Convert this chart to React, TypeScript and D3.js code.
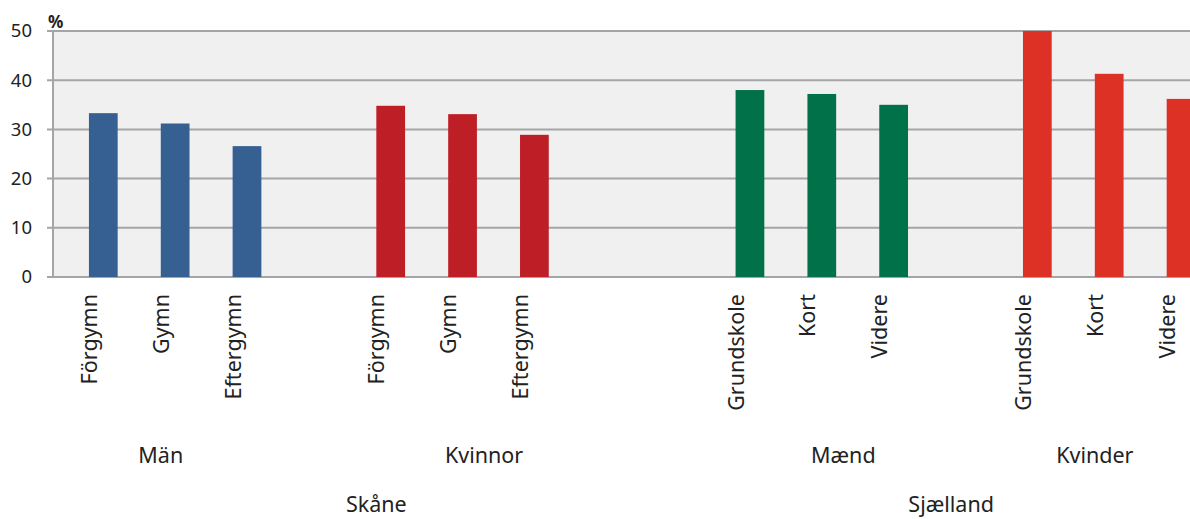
import React, { useEffect } from "react";
import * as d3 from "d3";

// 16 category slots (blank slots separate the groups)
const categories = ["Förgymn", "Gymn", "Eftergymn", "", "Förgymn", "Gymn", "Eftergymn", "", "", "Grundskole", "Kort", "Videre", "", "Grundskole", "Kort", "Videre"];
const values: (number | null)[] = [33.3, 31.2, 26.6, null, 34.8, 33.1, 28.9, null, null, 38.0, 37.2, 35.0, null, 50.0, 41.3, 36.2];
const groups = [
  { label: "Män", first: 0, last: 2, color: "#365f92" },
  { label: "Kvinnor", first: 3, last: 8, color: "#be1f26" },
  { label: "Mænd", first: 9, last: 12, color: "#007148" },
  { label: "Kvinder", first: 13, last: 15, color: "#de3126" },
];
const regions = [
  { label: "Skåne", first: 0, last: 8 },
  { label: "Sjælland", first: 9, last: 15 },
];
const yTicks = [0, 10, 20, 30, 40, 50];

const W = 1190;
const H = 519;
const left = 53;
const right = 1202.6;
const top = 31;
const bottom = 277;
const font = "'Noto Sans', 'Open Sans', sans-serif";

export default function App() {
  useEffect(() => {
    document.body.style.margin = "0";
  }, []);

  const x = d3.scaleBand<number>().domain(d3.range(categories.length)).range([left, right]).padding(0);
  const bw = x.bandwidth();
  const y = d3.scaleLinear().domain([0, 50]).range([bottom, top]);
  const colorOf = (i: number) => groups.find((g) => i >= g.first && i <= g.last)!.color;
  const spanCenter = (a: number, b: number) => ((x(a) as number) + (x(b) as number) + bw) / 2;
  const grid = "#a5a5a8";

  return (
    <svg width={W} height={H} style={{ display: "block" }} fontFamily={font}>
      <rect x={left} y={top} width={right - left} height={bottom - top} fill="#f0f0f0" />
      {yTicks.map((t) => (
        <g key={t}>
          <line x1={left - 6} x2={right} y1={y(t)} y2={y(t)} stroke={grid} strokeWidth={2} />
          <text x={32} y={y(t)} dy="0.35em" textAnchor="end" fontSize={18.5} fill="#222">
            {t}
          </text>
        </g>
      ))}
      <line x1={left} x2={left} y1={top} y2={bottom} stroke={grid} strokeWidth={2} />
      <text x={48} y={28} fontSize={17} fontWeight="bold" fill="#222">%</text>
      {values.map((v, i) =>
        v == null ? null : (
          <rect
            key={i}
            x={(x(i) as number) + bw * 0.5}
            y={y(v)}
            width={bw * 0.4}
            height={y(0) - y(v)}
            fill={colorOf(i)}
          />
        )
      )}
      {categories.map((c, i) =>
        c ? (
          <text
            key={"c" + i}
            transform={`translate(${(x(i) as number) + bw / 2 + 8},294) rotate(-90)`}
            textAnchor="end"
            fontSize={21.5}
            fill="#222"
          >
            {c}
          </text>
        ) : null
      )}
      {groups.map((g) => (
        <text key={g.label} x={spanCenter(g.first, g.last)} y={463} textAnchor="middle" fontSize={21.5} fill="#222">
          {g.label}
        </text>
      ))}
      {regions.map((r) => (
        <text key={r.label} x={spanCenter(r.first, r.last)} y={512} textAnchor="middle" fontSize={21.5} fill="#222">
          {r.label}
        </text>
      ))}
    </svg>
  );
}
